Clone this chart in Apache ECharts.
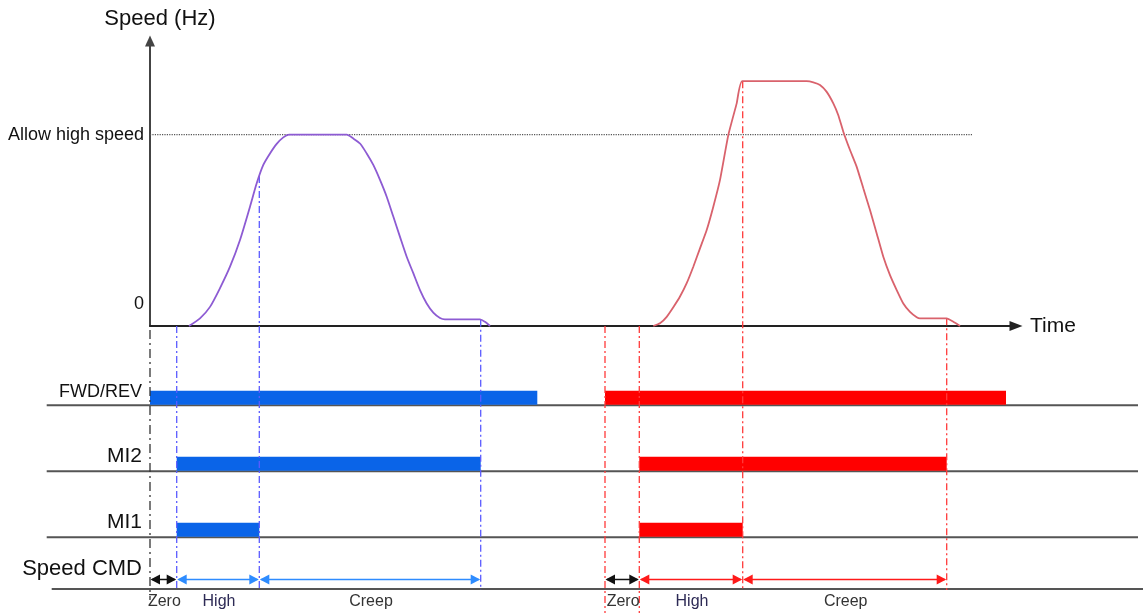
<!DOCTYPE html>
<html>
<head>
<meta charset="utf-8">
<script src="https://cdn.jsdelivr.net/npm/echarts@6/dist/echarts.min.js"></script>
<style>html,body{margin:0;padding:0;background:#fff}#c{width:1143px;height:613px}</style>
</head>
<body>
<div id="c"></div>
<script>
// ---- DATA (time in arbitrary units, speed in Hz-like units; "Allow high speed" = 50) ----
const allowHighSpeed = 50;
const allowLineEndTime = 82.2;
const speedTickLabels = { 0: '0', 50: 'Allow high speed' };

// speed profile, cycle 1 (purple): [time, speed]
const curveCycle1 = [
  [3.9, 0], [5.0, 2.0], [6.0, 5.0], [7.0, 9.9], [8.0, 15.5], [9.0, 22.5], [10.0, 31.2],
  [10.67, 37.3], [11.33, 42.1], [12.0, 45.1], [12.67, 47.6], [13.33, 49.3], [13.9, 50],
  [19.67, 50], [20.33, 49.0], [21.0, 47.7], [21.67, 45.1], [22.33, 42.1], [23.0, 38.2],
  [23.67, 33.8], [24.33, 28.6], [25.0, 23.3], [25.67, 18.1], [26.33, 13.8], [27.0, 9.4],
  [27.67, 5.9], [28.33, 3.5], [29.0, 2.1], [29.5, 1.75], [33.0, 1.75], [33.5, 1.1], [34.0, 0]
];
// speed profile, cycle 2 (red): [time, speed]
const curveCycle2 = [
  [50.33, 0], [51.0, 0.7], [51.67, 2.4], [52.33, 4.9], [53.0, 7.7], [53.67, 11.2],
  [54.33, 15.5], [55.0, 20.3], [55.67, 25.1], [56.33, 31.2], [57.0, 38.2], [57.83, 49.9],
  [58.67, 58.2], [59.23, 64.0], [65.67, 64.0], [66.33, 63.7], [67.0, 63.0], [67.67, 61.2],
  [68.33, 58.2], [68.83, 55.1], [69.33, 50.8], [70.0, 46.0], [70.67, 41.6], [71.33, 36.0],
  [72.0, 30.3], [72.67, 24.2], [73.33, 18.1], [74.0, 13.3], [74.67, 9.4], [75.33, 5.9],
  [76.0, 3.7], [76.67, 2.3], [77.0, 2.0], [79.67, 2.0], [80.33, 1.1], [81.0, 0]
];

const laneLabels = ['FWD/REV', 'MI2', 'MI1', 'Speed CMD'];
const segmentLabels = ['Zero', 'High', 'Creep'];

// event times per cycle: [run start, high start, creep start, creep end, run end]
const eventsCycle1 = [0, 2.67, 10.93, 33.07, 38.73];
const eventsCycle2 = [45.5, 48.93, 59.27, 79.67, 85.6];

// ---- LAYOUT / STYLE ----
const FONT = "'Liberation Sans', Arial, sans-serif";
const LANE_LEVEL = [3, 2, 1, 0.214];
const COL = {
  blueBar: '#0a64e8', redBar: '#ff0000',
  blueDash: '#5b5bff', redDash: '#ff3b3b', blackDash: '#333',
  blueArrow: '#2e8cff', redArrow: '#ff1a1a', blackArrow: '#111'
};

function curveAt(curve, t) {
  for (let i = 1; i < curve.length; i++) {
    if (t <= curve[i][0]) {
      const a = curve[i - 1], b = curve[i];
      return a[1] + (b[1] - a[1]) * (t - a[0]) / (b[0] - a[0]);
    }
  }
  return 0;
}

// bars: [t0, t1, lane, cycle]
const bars = [];
[[eventsCycle1, 0], [eventsCycle2, 1]].forEach(([ev, c]) => {
  bars.push([ev[0], ev[4], 0, c]);
  bars.push([ev[1], ev[3], 1, c]);
  bars.push([ev[1], ev[2], 2, c]);
});

// speed CMD segments: [t0, t1, segIdx, cycle]
const segs = [];
[[eventsCycle1, 0], [eventsCycle2, 1]].forEach(([ev, c]) => {
  segs.push([ev[0], ev[1], 0, c]);
  segs.push([ev[1], ev[2], 1, c]);
  segs.push([ev[2], ev[3], 2, c]);
});

// vertical guide lines: [t, speedTop], plus style info
const vlines = [];
const vstyle = [];
[[eventsCycle1, curveCycle1, 0], [eventsCycle2, curveCycle2, 1]].forEach(([ev, cv, c]) => {
  for (let k = 0; k < 4; k++) {
    const top = (k >= 2) ? curveAt(cv, ev[k]) : 0;
    vlines.push([ev[k], top]);
    let color, ext, dash;
    if (c === 0) {
      color = k === 0 ? COL.blackDash : COL.blueDash;
      ext = k === 0 ? 274 : 264;
      dash = k === 0 ? [9, 4, 2, 4] : [7, 3, 2, 3];
    } else {
      color = COL.redDash;
      ext = k <= 1 ? 287 : 264;
      dash = [7, 3, 2, 3];
    }
    vstyle.push({ color, ext, dash, startOff: (c === 0 && k === 0) ? 4 : 0 });
  }
});

const chart = echarts.init(document.getElementById('c'), null, { renderer: 'canvas' });

const option = {
  animation: false,
  backgroundColor: '#fff',
  grid: [
    { left: 150, top: 41, width: 866, height: 285 },
    { left: 0, top: 326, width: 1143, height: 287 }
  ],
  xAxis: [
    {
      gridIndex: 0, type: 'value', min: 0, max: 86.6,
      axisLine: { show: true, onZero: true, symbol: ['none', 'triangle'], symbolSize: [10, 13],
        lineStyle: { color: '#222', width: 2 } },
      axisTick: { show: false }, axisLabel: { show: false }, splitLine: { show: false },
      name: 'Time', nameLocation: 'end', nameGap: 14,
      nameTextStyle: { fontSize: 21, color: '#111', fontFamily: FONT }
    },
    { gridIndex: 1, type: 'value', min: -15, max: 99.3, show: false }
  ],
  yAxis: [
    {
      gridIndex: 0, type: 'value', min: 0, max: 74.5, interval: 50,
      axisLine: { show: true, symbol: ['none', 'triangle'], symbolSize: [10, 11],
        lineStyle: { color: '#444', width: 2 } },
      axisTick: { show: false }, splitLine: { show: false },
      axisLabel: {
        margin: 6, color: '#111', fontFamily: FONT, fontSize: 18,
        formatter: v => {
          const s = speedTickLabels[v];
          if (s === undefined) return '';
          return v === 0 ? '{z|' + s + '}' : '{a|' + s + '}';
        },
        rich: {
          z: { fontSize: 18, fontFamily: FONT, color: '#111', padding: [0, 0, 44, 0] },
          a: { fontSize: 18, fontFamily: FONT, color: '#111' }
        }
      },
      name: 'Speed (Hz)', nameLocation: 'end', nameGap: 11,
      nameTextStyle: { fontSize: 22, color: '#111', fontFamily: FONT, padding: [0, 0, 0, 20] }
    },
    { gridIndex: 1, type: 'value', min: -0.15, max: 4.2, show: false }
  ],
  series: [
    {
      type: 'line', xAxisIndex: 0, yAxisIndex: 0, z: 3,
      data: [[0, allowHighSpeed], [allowLineEndTime, allowHighSpeed]],
      showSymbol: false, silent: true,
      lineStyle: { color: '#555', width: 1.2, type: [1.2, 1.2] }
    },
    {
      type: 'line', xAxisIndex: 0, yAxisIndex: 0, z: 5,
      data: curveCycle1, showSymbol: false, smooth: 0.25,
      lineStyle: { color: '#8d5bd3', width: 1.8 }
    },
    {
      type: 'line', xAxisIndex: 0, yAxisIndex: 0, z: 5,
      data: curveCycle2, showSymbol: false, smooth: 0.15,
      lineStyle: { color: '#d9626c', width: 1.8 }
    },
    {
      type: 'custom', xAxisIndex: 0, yAxisIndex: 0, z: 4, clip: false,
      data: vlines,
      renderItem: (params, api) => {
        const st = vstyle[params.dataIndex];
        const t = api.value(0);
        const top = api.coord([t, api.value(1)]);
        const zero = api.coord([t, 0]);
        return {
          type: 'line',
          shape: { x1: top[0], y1: top[1] + st.startOff, x2: top[0], y2: zero[1] + st.ext },
          style: { stroke: st.color, lineWidth: 1.3, lineDash: st.dash }
        };
      }
    },
    {
      type: 'custom', xAxisIndex: 1, yAxisIndex: 1, z: 2,
      data: laneLabels.map((_, i) => [i, LANE_LEVEL[i]]),
      renderItem: (params, api) => {
        const i = params.dataIndex;
        const isCmd = i === 3;
        const a = api.coord([isCmd ? -9.83 : -10.33, LANE_LEVEL[i]]);
        const b = api.coord([isCmd ? 99.3 : 98.8, LANE_LEVEL[i]]);
        return {
          type: 'line',
          shape: { x1: a[0], y1: a[1], x2: b[0], y2: b[1] },
          style: { stroke: '#555', lineWidth: 2 }
        };
      }
    },
    {
      type: 'custom', xAxisIndex: 1, yAxisIndex: 1, z: 3,
      data: bars,
      renderItem: (params, api) => {
        const b = bars[params.dataIndex];
        const p0 = api.coord([b[0], LANE_LEVEL[b[2]]]);
        const p1 = api.coord([b[1], LANE_LEVEL[b[2]]]);
        return {
          type: 'rect',
          shape: { x: p0[0], y: p0[1] - 14.5, width: p1[0] - p0[0], height: 14 },
          style: { fill: b[3] === 0 ? COL.blueBar : COL.redBar }
        };
      }
    },
    {
      type: 'custom', xAxisIndex: 1, yAxisIndex: 1, z: 6,
      data: laneLabels.map((_, i) => [-0.8, LANE_LEVEL[i]]),
      renderItem: (params, api) => {
        const i = params.dataIndex;
        const p = api.coord([-0.8, LANE_LEVEL[i]]);
        const off = [13, 14.5, 15, 20][i];
        const fs = [18, 21, 21, 22][i];
        return {
          type: 'text', x: p[0], y: p[1] - off,
          style: { text: laneLabels[i], fill: '#111', font: fs + 'px ' + FONT,
            align: 'right', verticalAlign: 'middle' }
        };
      }
    },
    {
      type: 'custom', xAxisIndex: 1, yAxisIndex: 1, z: 6,
      data: segs,
      renderItem: (params, api) => {
        const s = segs[params.dataIndex];
        const a = api.coord([s[0], LANE_LEVEL[3]]);
        const b = api.coord([s[1], LANE_LEVEL[3]]);
        const y = a[1] - 9.5;
        const x0 = a[0], x1 = b[0];
        const col = s[2] === 0 ? COL.blackArrow : (s[3] === 0 ? COL.blueArrow : COL.redArrow);
        const hl = 10, hh = 5;
        return {
          type: 'group',
          children: [
            { type: 'line', shape: { x1: x0 + 2, y1: y, x2: x1 - 2, y2: y },
              style: { stroke: col, lineWidth: 1.5 } },
            { type: 'polygon', shape: { points: [[x0 + 0.5, y], [x0 + hl, y - hh], [x0 + hl, y + hh]] },
              style: { fill: col } },
            { type: 'polygon', shape: { points: [[x1 - 0.5, y], [x1 - hl, y - hh], [x1 - hl, y + hh]] },
              style: { fill: col } },
            { type: 'text', x: (x0 + x1) / 2 + 1, y: a[1] + 13,
              style: { text: segmentLabels[s[2]], fill: s[2] === 1 ? '#2d2a55' : '#333',
                font: '16px ' + FONT, align: 'center', verticalAlign: 'middle' } }
          ]
        };
      }
    }
  ]
};
chart.setOption(option);
</script>
</body>
</html>
